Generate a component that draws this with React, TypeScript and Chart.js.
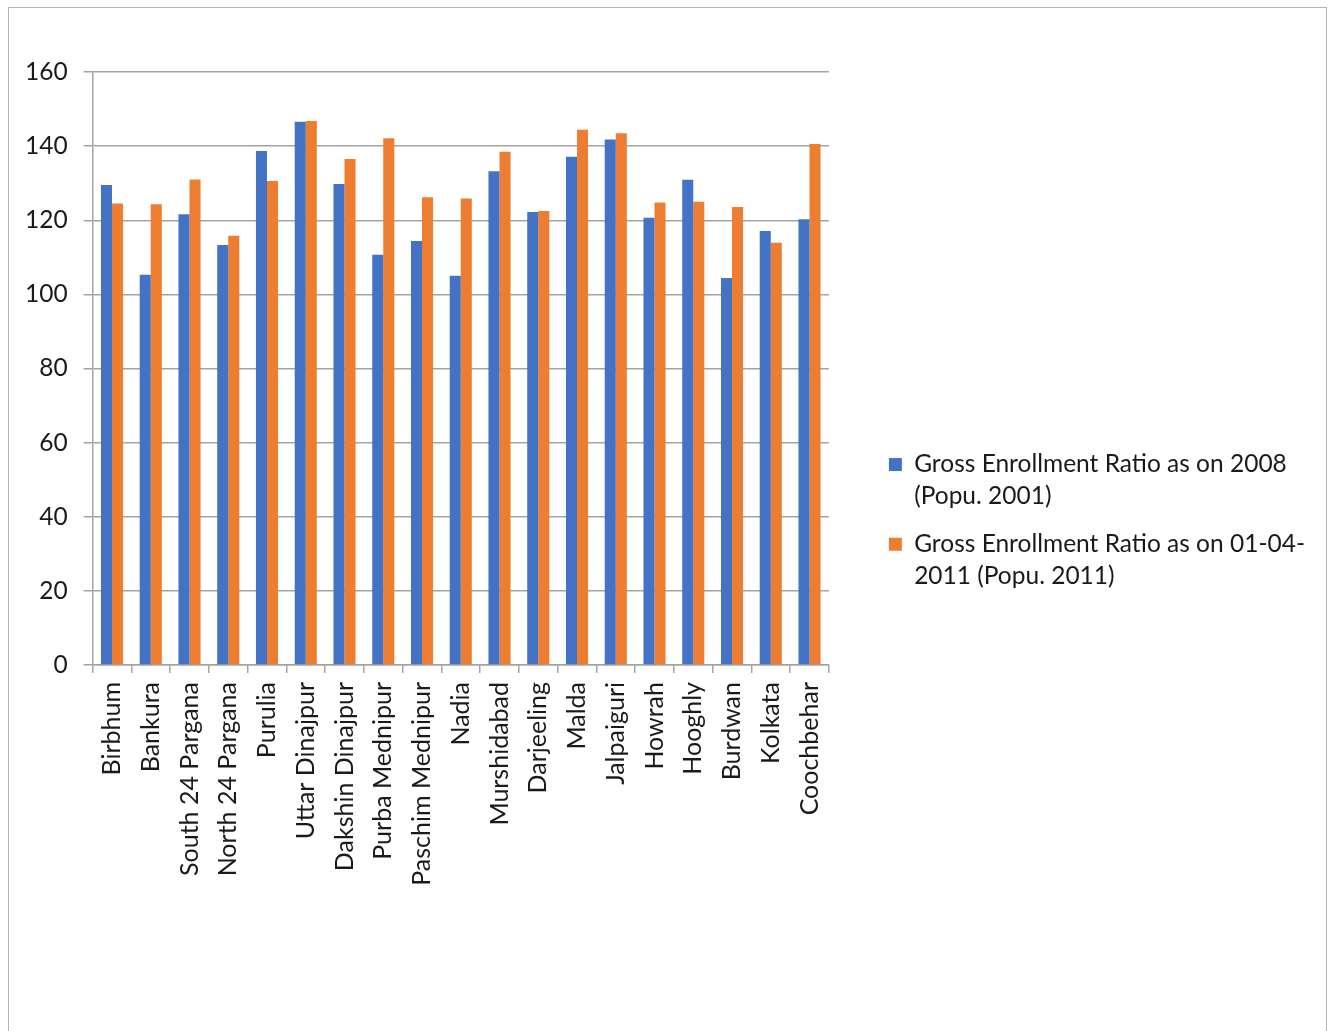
import React, { useEffect, useRef } from "react";
import { Chart, registerables } from "chart.js";

Chart.register(...registerables);

// District names along the category axis
const districts = [
  "Birbhum",
  "Bankura",
  "South 24 Pargana",
  "North 24 Pargana",
  "Purulia",
  "Uttar Dinajpur",
  "Dakshin Dinajpur",
  "Purba Mednipur",
  "Paschim Mednipur",
  "Nadia",
  "Murshidabad",
  "Darjeeling",
  "Malda",
  "Jalpaiguri",
  "Howrah",
  "Hooghly",
  "Burdwan",
  "Kolkata",
  "Coochbehar",
];

// Gross Enrollment Ratio as on 2008 (population base 2001)
const ger2008 = [
  129.5, 105.3, 121.6, 113.3, 138.7, 146.6, 129.8, 110.7, 114.4, 105.0, 133.2,
  122.2, 137.1, 141.8, 120.7, 130.9, 104.4, 117.1, 120.3,
];

// Gross Enrollment Ratio as on 01-04-2011 (population base 2011)
const ger2011 = [
  124.5, 124.3, 131.0, 115.8, 130.6, 146.8, 136.5, 142.1, 126.2, 125.9, 138.5,
  122.5, 144.4, 143.5, 124.8, 125.0, 123.6, 113.9, 140.6,
];

// Legend text, wrapped over two lines each
const seriesNames = [
  "Gross Enrollment Ratio as on 2008 (Popu. 2001)",
  "Gross Enrollment Ratio as on 01-04-2011 (Popu. 2011)",
];
const legendLines = [
  ["Gross Enrollment Ratio as on 2008", "(Popu. 2001)"],
  ["Gross Enrollment Ratio as on 01-04-", "2011 (Popu. 2011)"],
];

// Value axis
const yMin = 0;
const yMax = 160;
const yStep = 20;

const BLUE = "#4472C4";
const ORANGE = "#ED7D31";
const GRID = "#a3a3a3";
const TEXT = "#1a1a1a";
const FONT = "Lato, 'Open Sans', sans-serif";

export default function App() {
  const canvasRef = useRef<HTMLCanvasElement | null>(null);

  useEffect(() => {
    const canvas = canvasRef.current;
    if (!canvas) return;

    const chart = new Chart(canvas, {
      type: "bar",
      data: {
        labels: districts,
        datasets: [
          {
            label: seriesNames[0],
            data: ger2008,
            backgroundColor: BLUE,
            borderWidth: 0,
            categoryPercentage: 0.57,
            barPercentage: 1.0,
          },
          {
            label: seriesNames[1],
            data: ger2011,
            backgroundColor: ORANGE,
            borderWidth: 0,
            categoryPercentage: 0.57,
            barPercentage: 1.0,
          },
        ],
      },
      options: {
        responsive: false,
        animation: false,
        layout: {
          padding: { top: 64, left: 0, right: 11, bottom: 62 },
        },
        scales: {
          x: {
            offset: true,
            grid: {
              offset: true,
              drawOnChartArea: false,
              drawTicks: true,
              tickLength: 8,
              color: GRID,
              lineWidth: 1.5,
            },
            border: { display: true, color: GRID, width: 1.5 },
            ticks: {
              autoSkip: false,
              maxRotation: 90,
              minRotation: 90,
              padding: 9,
              color: TEXT,
              font: { family: FONT, size: 25 },
            },
            // room below the plot for the rotated district names
            afterFit: (scale: any) => {
              scale.height = 311;
            },
          },
          y: {
            min: yMin,
            max: yMax,
            ticks: {
              stepSize: yStep,
              padding: 16,
              color: TEXT,
              font: { family: FONT, size: 24.5 },
            },
            grid: {
              color: GRID,
              lineWidth: 1.5,
              tickLength: 9,
            },
            border: { display: true, color: GRID, width: 1.5 },
          },
          // spacer between plot area and legend
          gap: {
            type: "linear",
            position: "right",
            display: true,
            grid: { display: false },
            border: { display: false },
            ticks: { display: false },
            afterFit: (scale: any) => {
              scale.width = 44;
            },
          },
        },
        plugins: {
          legend: {
            position: "right",
            align: "center",
            maxWidth: 520,
            labels: {
              boxWidth: 13,
              boxHeight: 13,
              padding: 16,
              color: TEXT,
              font: { family: FONT, size: 24.5, lineHeight: 1.3 },
              generateLabels: (c: any) =>
                Chart.defaults.plugins.legend.labels
                  .generateLabels(c)
                  .map((item: any, i: number) => ({
                    ...item,
                    text: legendLines[i],
                    lineWidth: 0,
                  })),
            },
          },
          tooltip: { enabled: false },
        },
      } as any,
    });

    return () => chart.destroy();
  }, []);

  return (
    <div
      style={{
        position: "fixed",
        top: 7,
        left: 8,
        width: 1317,
        height: 1040,
        border: "1px solid #b5b5b5",
        background: "#fff",
        boxSizing: "content-box",
      }}
    >
      <canvas
        ref={canvasRef}
        width={1317}
        height={1030}
        style={{ display: "block", width: 1317, height: 1030 }}
      />
    </div>
  );
}
